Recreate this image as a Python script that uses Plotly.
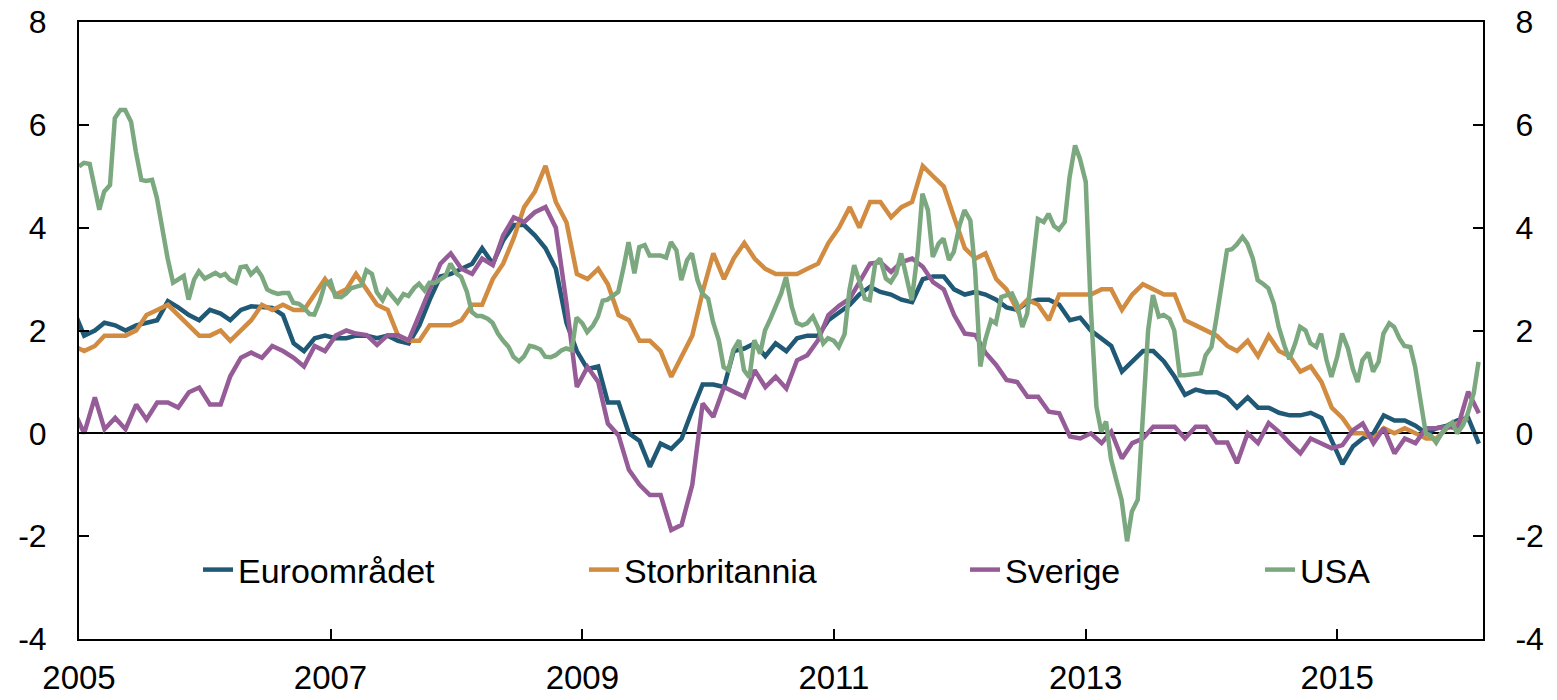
import pandas as pd
import plotly.graph_objects as go

# ---- data (year-over-year, per cent) ----
# monthly series: Dec 2004 ... Feb 2016 (mid-month)
months = pd.date_range("2004-12-01", periods=135, freq="MS") + pd.Timedelta(days=15)

euro = [2.4,
        1.9, 2.0, 2.15, 2.1, 2.0, 2.1, 2.15, 2.2, 2.57, 2.45, 2.3, 2.2,
        2.4, 2.33, 2.2, 2.4, 2.47, 2.45, 2.44, 2.3, 1.75, 1.6, 1.85, 1.9,
        1.85, 1.85, 1.9, 1.9, 1.85, 1.9, 1.8, 1.75, 2.1, 2.6, 3.05, 3.1,
        3.2, 3.3, 3.6, 3.3, 3.75, 4.05, 4.05, 3.85, 3.6, 3.2, 2.15, 1.6,
        1.25, 1.3, 0.6, 0.6, 0.0, -0.15, -0.65, -0.2, -0.3, -0.1, 0.45, 0.95,
        0.95, 0.9, 1.6, 1.65, 1.75, 1.5, 1.75, 1.6, 1.85, 1.9, 1.9, 2.2,
        2.35, 2.5, 2.7, 2.85, 2.75, 2.7, 2.6, 2.55, 3.0, 3.05, 3.05, 2.8,
        2.7, 2.75, 2.7, 2.6, 2.45, 2.4, 2.55, 2.6, 2.6, 2.5, 2.2, 2.25,
        2.0, 1.85, 1.7, 1.2, 1.4, 1.6, 1.6, 1.4, 1.1, 0.75, 0.85, 0.8,
        0.8, 0.7, 0.5, 0.7, 0.5, 0.5, 0.4, 0.35, 0.35, 0.4, 0.3, -0.15,
        -0.6, -0.25, -0.1, 0.0, 0.35, 0.25, 0.25, 0.15, 0.0, 0.1, 0.15, 0.25,
        0.3, -0.2]

uk = [1.7,
      1.6, 1.7, 1.9, 1.9, 1.9, 2.0, 2.3, 2.4, 2.5, 2.3, 2.1, 1.9,
      1.9, 2.0, 1.8, 2.0, 2.2, 2.5, 2.4, 2.5, 2.4, 2.4, 2.7, 3.0,
      2.7, 2.8, 3.1, 2.8, 2.5, 2.4, 1.9, 1.8, 1.8, 2.1, 2.1, 2.1,
      2.2, 2.5, 2.5, 3.0, 3.3, 3.8, 4.4, 4.7, 5.2, 4.5, 4.1, 3.1,
      3.0, 3.2, 2.9, 2.3, 2.2, 1.8, 1.8, 1.6, 1.1, 1.5, 1.9, 2.75,
      3.5, 3.0, 3.4, 3.7, 3.4, 3.2, 3.1, 3.1, 3.1, 3.2, 3.3, 3.7,
      4.0, 4.4, 4.0, 4.5, 4.5, 4.2, 4.4, 4.5, 5.2, 5.0, 4.8, 4.2,
      3.6, 3.4, 3.5, 3.0, 2.8, 2.4, 2.6, 2.5, 2.2, 2.7, 2.7, 2.7,
      2.7, 2.8, 2.8, 2.4, 2.7, 2.9, 2.8, 2.7, 2.7, 2.2, 2.1, 2.0,
      1.9, 1.7, 1.6, 1.8, 1.5, 1.9, 1.6, 1.5, 1.2, 1.3, 1.0, 0.5,
      0.3, 0.0, 0.0, -0.1, 0.1, 0.0, 0.1, 0.0, -0.1, -0.1, 0.1, 0.2,
      0.3]

sweden = [0.45,
          0.0, 0.7, 0.08, 0.3, 0.08, 0.56, 0.27, 0.6, 0.6, 0.5, 0.8, 0.89,
          0.56, 0.56, 1.11, 1.47, 1.57, 1.47, 1.7, 1.6, 1.47, 1.3, 1.7, 1.6,
          1.9, 2.0, 1.94, 1.91, 1.72, 1.91, 1.91, 1.81, 2.3, 2.78, 3.3, 3.5,
          3.2, 3.1, 3.4, 3.27, 3.85, 4.2, 4.11, 4.3, 4.4, 4.0, 2.52, 0.9,
          1.29, 1.0, 0.19, -0.04, -0.71, -1.0, -1.2, -1.2, -1.88, -1.78, -1.0, 0.58,
          0.32, 0.9, 0.81, 0.71, 1.23, 0.9, 1.1, 0.87, 1.42, 1.52, 1.81, 2.3,
          2.48, 2.62, 2.94, 3.3, 3.33, 3.14, 3.33, 3.4, 3.24, 2.94, 2.8, 2.3,
          1.94, 1.91, 1.57, 1.33, 1.04, 1.0, 0.71, 0.71, 0.42, 0.39, -0.06, -0.1,
          0.0, -0.19, 0.03, -0.49, -0.19, -0.1, 0.13, 0.13, 0.13, -0.1, 0.13, 0.13,
          -0.18, -0.18, -0.58, 0.0, -0.19, 0.2, 0.03, -0.19, -0.39, -0.1, -0.19, -0.29,
          -0.23, 0.06, 0.19, -0.19, 0.1, -0.39, -0.1, -0.19, 0.1, 0.1, 0.13, 0.1,
          0.81, 0.39]

# USA: semi-monthly observations, 1 Jan 2005 ... 15 Feb 2016
half_months = pd.date_range("2005-01-01", periods=268, freq="SMS")
usa = [
    5.19, 5.26, 5.24, 4.8, 4.35, 4.7, 4.83, 6.13, 6.29, 6.29, 6.06, 5.48,
    4.93, 4.91, 4.93, 4.58, 3.93, 3.41, 2.93, 2.99, 3.06, 2.6, 2.99, 3.15,
    3.01, 3.06, 3.12, 3.06, 3.1, 2.99, 2.93, 3.23, 3.25, 3.09, 3.2, 3.06,
    2.8, 2.75, 2.71, 2.73, 2.73, 2.54, 2.52, 2.45, 2.32, 2.31, 2.57, 2.89,
    2.96, 2.66, 2.65, 2.72, 2.82, 2.85, 2.88, 3.17, 3.1, 2.75, 2.59, 2.78,
    2.65, 2.54, 2.71, 2.67, 2.83, 2.91, 2.78, 2.93, 2.93, 2.99, 3.06, 3.3,
    3.11, 3.04, 2.75, 2.36, 2.28, 2.28, 2.23, 2.15, 1.94, 1.81, 1.68, 1.49,
    1.4, 1.49, 1.7, 1.68, 1.63, 1.49, 1.48, 1.52, 1.61, 1.65, 1.62, 2.25,
    2.14, 1.97, 2.1, 2.27, 2.58, 2.6, 2.69, 2.75, 3.24, 3.72, 3.11, 3.62,
    3.66, 3.46, 3.46, 3.46, 3.42, 3.72, 3.56, 2.98, 3.37, 3.5, 2.98, 2.72,
    2.62, 2.17, 1.81, 1.29, 1.23, 1.62, 1.81, 1.23, 1.09, 1.81, 1.55, 2.0,
    2.23, 2.46, 2.72, 3.04, 2.46, 2.15, 2.1, 2.14, 2.27, 2.07, 1.75, 1.85,
    1.8, 1.68, 1.93, 2.78, 3.27, 2.98, 2.62, 2.59, 3.3, 3.4, 3.01, 2.94,
    3.11, 3.5, 3.01, 2.59, 3.5, 4.66, 4.34, 3.43, 3.69, 3.79, 3.37, 3.53,
    4.05, 4.34, 4.14, 3.17, 1.3, 1.81, 2.2, 2.14, 2.65, 2.69, 2.72, 2.52,
    2.07, 2.33, 3.37, 4.17, 4.11, 4.27, 4.03, 3.96, 4.11, 4.98, 5.6, 5.34,
    4.89, 2.52, 0.52, 0.03, 0.23, -0.49, -0.94, -1.29, -2.1, -1.52, -1.29, 0.13,
    2.0, 2.69, 2.27, 2.3, 2.23, 2.0, 1.13, 1.13, 1.15, 1.16, 1.17, 1.52,
    1.68, 2.23, 2.94, 3.56, 3.58, 3.67, 3.82, 3.69, 3.4, 2.98, 2.9, 2.82,
    2.52, 2.07, 1.7, 1.44, 1.75, 2.07, 2.0, 1.75, 1.68, 1.94, 1.42, 1.1,
    1.49, 1.94, 1.65, 1.26, 1.0, 1.42, 1.57, 1.2, 1.39, 1.94, 2.14, 2.07,
    1.84, 1.7, 1.68, 1.29, 0.58, 0.0, -0.05, -0.18, 0.01, 0.13, 0.21, 0.0,
    0.16, 0.39, 0.78, 1.39]

names = ["Euroområdet", "Storbritannia", "Sverige", "USA"]
colors = ["#1F5975", "#D18C41", "#965C98", "#7CA880"]
y_ticks = [-4, -2, 0, 2, 4, 6, 8]
y_ticktext = ["-4", "-2", "0", "2", "4", "6", "8"]

series = [
    (months, euro),
    (months[:len(uk)], uk),
    (months, sweden),
    (half_months, usa),
]
# the last series is bound to the right-hand axis (same scale) so it is drawn
yaxes = ["y", "y", "y", "y2"]

FONT = "Arial, Liberation Sans, sans-serif"
W, H = 1557, 700
ML, MR, MT, MB = 79, 74, 22, 61
PW, PH = W - ML - MR, H - MT - MB

fig = go.Figure()
legend_keys = ["legend", "legend2", "legend3", "legend4"]
for (x, y), name, col, lg, ya in zip(series, names, colors, legend_keys, yaxes):
    fig.add_trace(go.Scatter(x=x, y=y, name=name, mode="lines",
                             line=dict(color=col, width=4.5), legend=lg,
                             yaxis=ya))

# legend box left edges (px), placed inside the plot area
legend_px = [198, 584, 965, 1260]
leg_common = dict(xanchor="left", yanchor="middle",
                  y=(H - MB - 570) / PH,
                  bgcolor="rgba(0,0,0,0)", borderwidth=0,
                  font=dict(family=FONT, size=34, color="black"))
legends = {k: dict(x=(px - ML) / PW, **leg_common)
           for k, px in zip(legend_keys, legend_px)}

axis_font = dict(family=FONT, size=32, color="black")
yax_common = dict(range=[-4, 8], tickvals=y_ticks, ticktext=y_ticktext,
                  ticks="inside", ticklen=10, tickwidth=1.5, tickcolor="black",
                  showline=True, linecolor="black", linewidth=2,
                  showgrid=False, tickfont=axis_font, ticklabelstandoff=24)
fig.update_layout(
    width=W, height=H,
    margin=dict(l=ML, r=MR, t=MT, b=MB, autoexpand=False),
    plot_bgcolor="white", paper_bgcolor="white",
    showlegend=True,
    xaxis=dict(type="date", range=["2005-01-01", "2016-02-28"],
               tick0="2005-01-01", dtick="M24", tickformat="%Y",
               ticks="inside", ticklen=10, tickwidth=1.5, tickcolor="black",
               showline=True, linecolor="black", linewidth=2, mirror=True,
               showgrid=False, zeroline=False, tickangle=0,
               tickfont=dict(family=FONT, size=33, color="black"),
               ticklabelstandoff=8),
    yaxis=dict(zeroline=True, zerolinecolor="black", zerolinewidth=2,
               **yax_common),
    yaxis2=dict(overlaying="y", side="right", anchor="x", zeroline=False,
                **yax_common),
    **legends,
)

fig.write_html("out.html", config={"displayModeBar": False},
               post_script="document.body.style.margin='0';document.body.style.overflow='hidden';")
